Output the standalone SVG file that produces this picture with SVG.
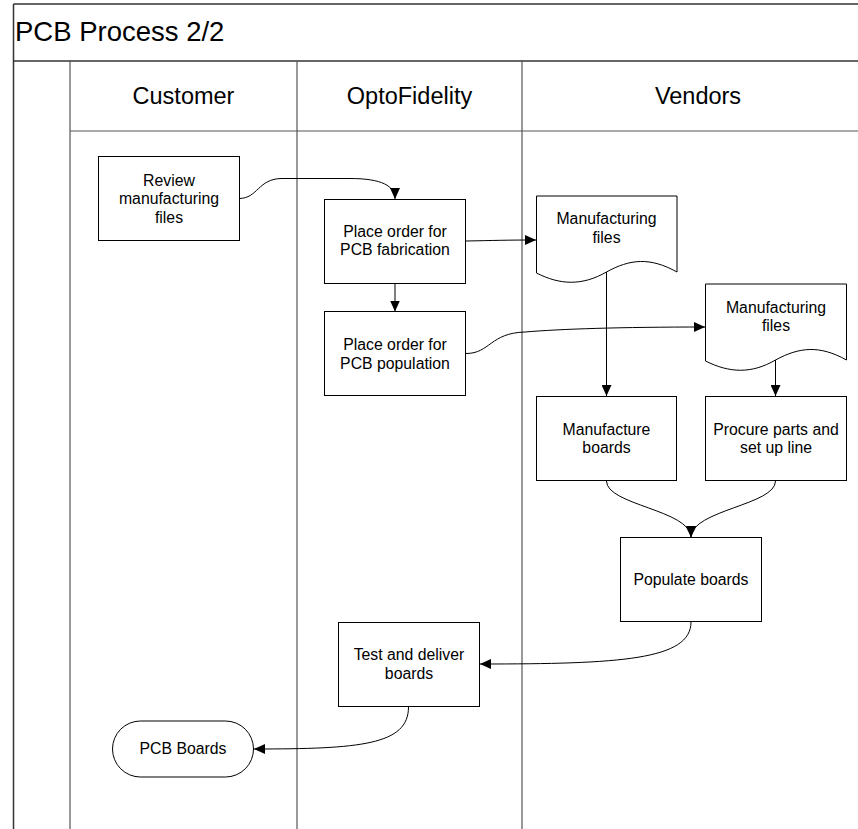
<svg xmlns="http://www.w3.org/2000/svg" width="858" height="829" viewBox="0 0 858 829">
<style>
.frame{fill:none;stroke:#333;stroke-width:1.5}
.lane{fill:none;stroke:#555;stroke-width:1.2}
.box{fill:#fff;stroke:#000;stroke-width:1}
.t{font-family:"Liberation Sans",Arial,sans-serif;font-size:15.8px;fill:#000;text-anchor:middle}
.h{font-family:"Liberation Sans",Arial,sans-serif;font-size:23.5px;fill:#000;text-anchor:middle}
.title{font-family:"Liberation Sans",Arial,sans-serif;font-size:27.5px;fill:#000}
.c{fill:none;stroke:#000;stroke-width:1}
</style>
<defs>
<marker id="arr" markerWidth="11" markerHeight="10" refX="11" refY="5" orient="auto" markerUnits="userSpaceOnUse">
<path d="M0,0 L11,5 L0,10 Z" fill="#000"/>
</marker>
</defs>
<rect width="858" height="829" fill="#fff"/>
<g id="pool">
<line class="frame" x1="13.5" y1="4" x2="858" y2="4"/>
<line class="frame" x1="13.5" y1="4" x2="13.5" y2="829"/>
<line class="frame" x1="13.5" y1="61" x2="858" y2="61"/>
<line class="lane" x1="70" y1="61" x2="70" y2="829"/>
<line class="lane" x1="70" y1="131" x2="858" y2="131"/>
<line class="lane" x1="297" y1="61" x2="297" y2="829"/>
<line class="lane" x1="522" y1="61" x2="522" y2="829"/>
<text class="title" x="15" y="40.5">PCB Process 2/2</text>
<text class="h" x="183.5" y="104">Customer</text>
<text class="h" x="409.5" y="104">OptoFidelity</text>
<text class="h" x="698" y="104">Vendors</text>
</g>
<g id="connectors">
<path class="c" d="M239,198.5 C258,198.5 258,178.5 282,178.5 L350,178.5 C382,178.5 395,186 395,199" marker-end="url(#arr)"/>
<path class="c" d="M466,241 C495,240.5 505,240 536,240" marker-end="url(#arr)"/>
<path class="c" d="M395,283.5 L395,311.5" marker-end="url(#arr)"/>
<path class="c" d="M466,353.5 C490,353.5 490,333 525,332 C560,329 620,327 705,327" marker-end="url(#arr)"/>
<path class="c" d="M606.5,272 L606.5,396" marker-end="url(#arr)"/>
<path class="c" d="M775.5,360 L775.5,396" marker-end="url(#arr)"/>
<path class="c" d="M606.5,481 C606.5,505 690,510 691,537" marker-end="url(#arr)"/>
<path class="c" d="M775.5,481 C775.5,505 692,510 691,537" marker-end="url(#arr)"/>
<path class="c" d="M691,622 C691,660 620,664 480,664" marker-end="url(#arr)"/>
<path class="c" d="M408.5,707 C408.5,745 360,749 254,749" marker-end="url(#arr)"/>
</g>
<g id="review">
<rect class="box" x="98.5" y="156.5" width="141" height="84"/>
<text class="t" x="169" y="185.5">Review</text>
<text class="t" x="169" y="204">manufacturing</text>
<text class="t" x="169" y="222.5">files</text>
</g>
<g id="order_fab">
<rect class="box" x="324.5" y="199.5" width="141" height="84"/>
<text class="t" x="395" y="236.5">Place order for</text>
<text class="t" x="395" y="255">PCB fabrication</text>
</g>
<g id="order_pop">
<rect class="box" x="324.5" y="311.5" width="141" height="84"/>
<text class="t" x="395" y="350">Place order for</text>
<text class="t" x="395" y="368.5">PCB population</text>
</g>
<g id="files1">
<path class="box" d="M536.5,196 L677,196 L677,272 C650,257 630,259 606.5,272 C582,286 560,285 536.5,273 Z"/>
<text class="t" x="606.5" y="224">Manufacturing</text>
<text class="t" x="606.5" y="242.5">files</text>
</g>
<g id="files2">
<path class="box" d="M705.5,284 L846.5,284 L846.5,360 C819.5,345 799.5,347 775.5,360 C751.5,374 729.5,373 705.5,361 Z"/>
<text class="t" x="776" y="312.5">Manufacturing</text>
<text class="t" x="776" y="331">files</text>
</g>
<g id="manufacture">
<rect class="box" x="536.5" y="396.5" width="140" height="84"/>
<text class="t" x="606.5" y="434.5">Manufacture</text>
<text class="t" x="606.5" y="453">boards</text>
</g>
<g id="procure">
<rect class="box" x="705.5" y="396.5" width="141" height="84"/>
<text class="t" x="776" y="434.5">Procure parts and</text>
<text class="t" x="776" y="453">set up line</text>
</g>
<g id="populate">
<rect class="box" x="620.5" y="537.5" width="141" height="84"/>
<text class="t" x="691" y="585">Populate boards</text>
</g>
<g id="test">
<rect class="box" x="338.5" y="622.5" width="141" height="84"/>
<text class="t" x="409" y="660">Test and deliver</text>
<text class="t" x="409" y="678.5">boards</text>
</g>
<g id="pcb_boards">
<rect class="box" x="112.5" y="721" width="141" height="56" rx="28" ry="28"/>
<text class="t" x="183" y="754">PCB Boards</text>
</g>
</svg>
